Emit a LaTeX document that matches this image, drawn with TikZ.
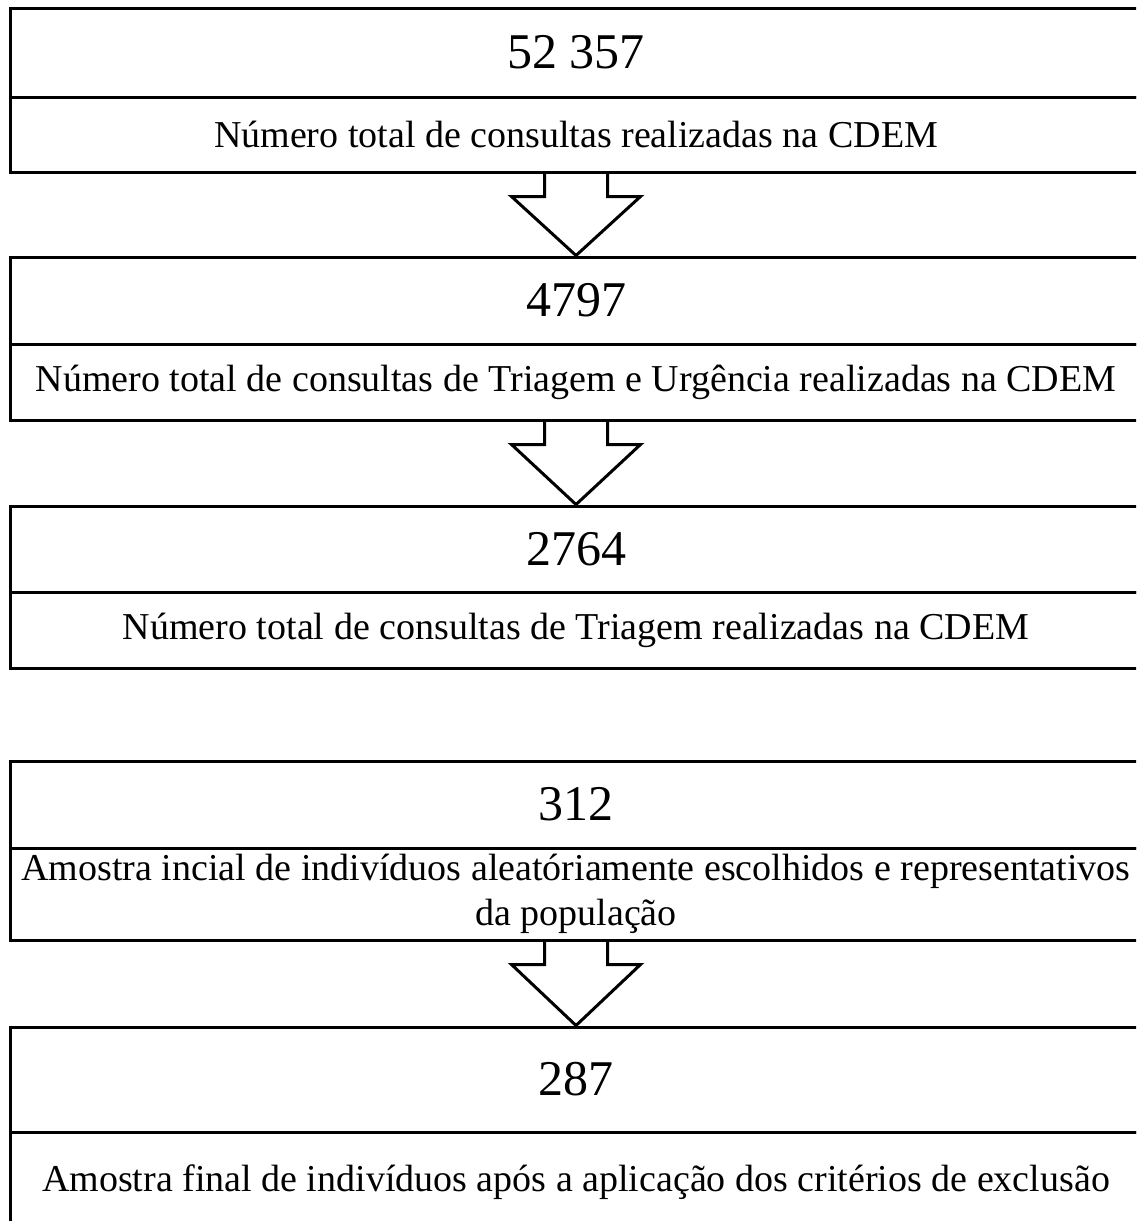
\documentclass[tikz,border=0pt]{standalone}
\usepackage{fontspec}
\setmainfont{Liberation Serif}
\usetikzlibrary{calc}
\tikzset{
  part/.style={draw, line width=3pt, minimum width=1132pt, inner sep=0pt, anchor=center, align=center},
  numtxt/.style={font=\fontsize{50}{56}\selectfont},
  labtxt/.style={font=\fontsize{38}{45}\selectfont},
  blockarrow/.style={draw, line width=3pt, line join=miter}
}
\newcommand\downarrowblock[2]{%
  \draw[blockarrow]
    ($(#1.south)+(-31.5,0)$) -- ($(#1.south)+(-31.5,23)$) -- ($(#1.south)+(-64.5,23)$)
    -- (#2.north)
    -- ($(#1.south)+(64.5,23)$) -- ($(#1.south)+(31.5,23)$) -- ($(#1.south)+(31.5,0)$);
}
\begin{document}
\begin{tikzpicture}[x=1pt,y=-1pt]
\useasboundingbox (0,0) rectangle (1136,1221);
\clip (0,0) rectangle (1136,1221);
\fill[white] (0,0) rectangle (1136,1221);

% Box 1
\node[part, numtxt, minimum height=89pt] (n1) at (576,52.5) {52 357};
\node[part, labtxt, minimum height=75pt] (l1) at (576,134.5) {Número total de consultas realizadas na CDEM};
% Box 2
\node[part, numtxt, minimum height=87pt] (n2) at (576,300.5) {4797};
\node[part, labtxt, minimum height=76pt] (l2) at (576,382) {Número total de consultas de Triagem e Urgência realizadas na CDEM};
% Box 3
\node[part, numtxt, minimum height=86pt] (n3) at (576,549) {2764};
\node[part, labtxt, minimum height=76pt] (l3) at (576,630) {Número total de consultas de Triagem realizadas na CDEM};
% Box 4
\node[part, numtxt, minimum height=87pt] (n4) at (576,804.5) {312};
\node[part, labtxt, minimum height=92pt] (l4) at (576,894) {Amostra incial de indivíduos aleatóriamente escolhidos e representativos\\da população};
% Box 5 (its bottom edge lies below the page)
\node[part, numtxt, minimum height=105pt] (n5) at (576,1079.5) {287};
\node[part, labtxt, minimum height=100pt] (l5) at (576,1182) {\raisebox{7pt}{Amostra final de indivíduos após a aplicação dos critérios de exclusão}};

% Arrows
\downarrowblock{l1}{n2}
\downarrowblock{l2}{n3}
\downarrowblock{l4}{n5}
\end{tikzpicture}
\end{document}
